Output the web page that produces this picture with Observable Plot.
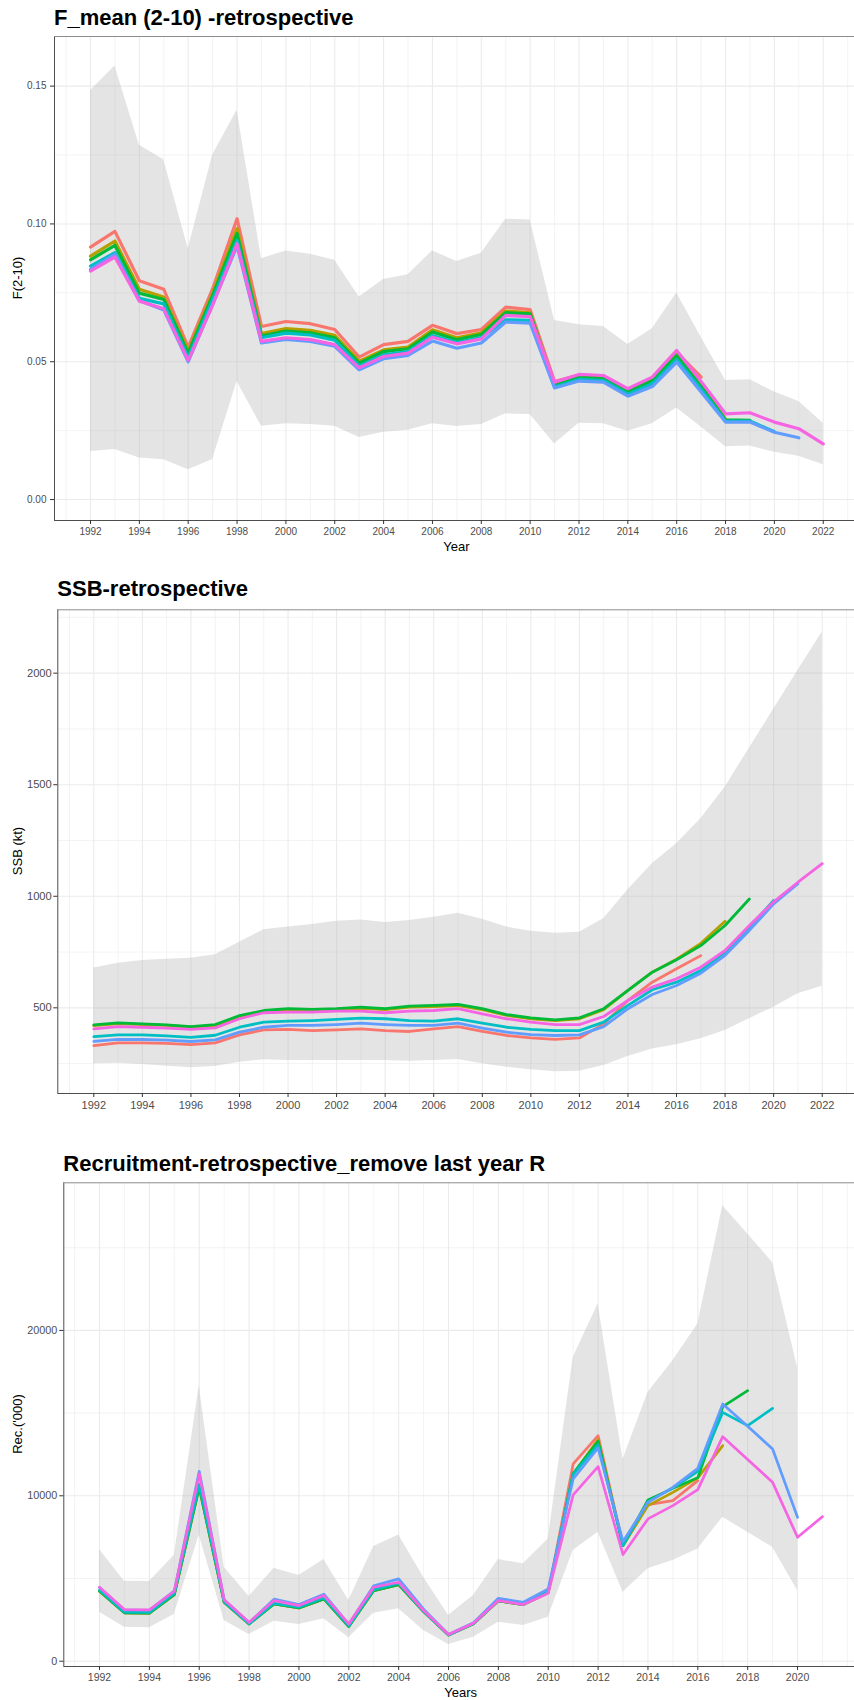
<!DOCTYPE html>
<html><head><meta charset="utf-8">
<script src="https://cdn.jsdelivr.net/npm/d3@7"></script>
<script src="https://cdn.jsdelivr.net/npm/@observablehq/plot@0.6"></script>
<style>
body{margin:0;background:#fff;font-family:"Liberation Sans",Arial,sans-serif;}
#wrap{position:relative;width:854px;height:1700px;overflow:hidden;background:#fff;}
.panel{position:absolute;left:0;}
.title{position:absolute;font-weight:bold;font-size:22px;line-height:22px;color:#000;white-space:nowrap;}
.axt{position:absolute;font-size:13px;line-height:13px;color:#000;white-space:nowrap;transform:translate(-50%,-50%);}
.axt.rot{transform:translate(-50%,-50%) rotate(-90deg);}
</style></head>
<body><div id="wrap"></div>
<script>
// ---------- shared ----------
const runs = ["retro-5", "retro-4", "retro-3", "retro-2", "retro-1", "base"];
const runColors = ["#F8766D", "#B79F00", "#00BA38", "#00BFC4", "#619CFF", "#F564E3"];

// ---------- Panel 1: F_mean (2-10) ----------
const fYears = [1992,1993,1994,1995,1996,1997,1998,1999,2000,2001,2002,2003,2004,2005,2006,2007,2008,2009,2010,2011,2012,2013,2014,2015,2016,2017,2018,2019,2020,2021,2022];
const fRed   = [.0916,.0973,.0794,.0763,.0553,.0765,.1019,.0628,.0646,.0638,.0617,.0517,.0562,.0574,.0632,.0602,.0617,.0698,.0689,.0428,.0452,.0448,.0398,.0440,.0535,.0444];
const fOlive = [.0883,.0938,.0763,.0735,.0538,.0748,.0983,.0602,.0620,.0614,.0596,.0502,.0543,.0553,.0616,.0587,.0605,.0684,.0677,.0418,.0446,.0442,.0394,.0435,.0527,.0415,.0292];
const fGreen = [.0870,.0922,.0749,.0726,.0531,.0740,.0965,.0593,.0611,.0605,.0587,.0495,.0537,.0547,.0608,.0580,.0599,.0678,.0674,.0414,.0444,.0440,.0392,.0432,.0523,.0410,.0289,.0287];
const fCyan  = [.0847,.0896,.0730,.0710,.0515,.0725,.0940,.0587,.0604,.0597,.0578,.0485,.0525,.0537,.0595,.0570,.0588,.0652,.0650,.0408,.0436,.0432,.0382,.0420,.0508,.0400,.0284,.0285,.0246];
const fBlue  = [.0835,.0890,.0722,.0688,.0500,.0708,.0920,.0568,.0581,.0574,.0556,.0471,.0511,.0523,.0575,.0549,.0568,.0644,.0640,.0405,.0430,.0426,.0375,.0410,.0499,.0390,.0281,.0281,.0244,.0224];
const fPink  = [.0829,.0880,.0720,.0692,.0505,.0705,.0928,.0574,.0587,.0580,.0562,.0478,.0519,.0531,.0589,.0565,.0583,.0668,.0664,.0426,.0454,.0450,.0402,.0444,.0541,.0428,.0311,.0315,.0281,.0257,.0202];
const fHi = [.1483,.1573,.1285,.1233,.0910,.1249,.1412,.0874,.0902,.0890,.0868,.0735,.0798,.0816,.0902,.0864,.0894,.1017,.1014,.0650,.0634,.0628,.0563,.0620,.0749,.0589,.0432,.0435,.0390,.0356,.0277];
const fLo = [.0174,.0182,.0151,.0144,.0108,.0145,.0428,.0266,.0275,.0272,.0266,.0225,.0244,.0251,.0275,.0265,.0272,.0311,.0309,.0202,.0277,.0275,.0248,.0275,.0332,.0263,.0192,.0194,.0172,.0157,.0126];
const fYTicks = [0, 0.05, 0.10, 0.15];
const fYMinor = [0.025, 0.075, 0.125];

// ---------- Panel 2: SSB ----------
const sYears = fYears;
const sRed   = [331,343,343,341,335,343,379,401,403,398,401,406,398,394,406,416,395,376,365,359,365,428,533,615,675,734];
const sOlive = [420,429,425,421,413,421,460,484,491,489,492,498,492,503,506,510,492,466,451,443,451,492,578,660,718,789,888];
const sGreen = [424,433,428,424,416,425,465,488,496,493,496,503,496,508,511,515,496,470,455,446,455,496,578,660,715,779,869,988];
const sCyan  = [371,379,379,374,368,377,413,436,440,443,448,454,451,443,440,451,431,413,403,398,398,436,511,581,615,667,750,862,981];
const sBlue  = [350,359,358,355,349,356,391,413,421,421,425,431,425,421,421,431,409,391,380,376,379,416,496,560,600,655,735,847,966,1056];
const sPink  = [406,416,413,409,403,410,451,478,481,481,485,485,478,485,488,496,473,451,436,425,425,461,533,593,630,682,757,869,975,1063,1146];
const sHi = [679,700,712,718,722,738,794,850,862,874,888,894,882,891,906,924,897,862,843,834,839,899,1029,1146,1235,1348,1489,1664,1838,2012,2184];
const sLo = [249,252,246,238,231,237,256,267,264,264,264,264,264,261,264,268,249,234,222,214,216,241,282,316,335,361,398,451,503,563,597];
const sYTicks = [500, 1000, 1500, 2000];
const sYMinor = [250, 750, 1250, 1750, 2250];

// ---------- Panel 3: Recruitment ----------
const rYears = [1992,1993,1994,1995,1996,1997,1998,1999,2000,2001,2002,2003,2004,2005,2006,2007,2008,2009,2010,2011,2012,2013,2014,2015,2016,2017,2018,2019,2020,2021];
const rRed   = [4230,2924,2904,4028,10514,3569,2256,3465,3223,3768,2096,4270,4632,3000,1580,2270,3650,3420,4150,11927,13637,6990,9466,9709,10917];
const rOlive = [4230,2924,2904,4028,10514,3569,2256,3465,3223,3768,2096,4270,4632,3000,1580,2270,3650,3420,4150,11322,13400,6990,9405,10211,11081,13032];
const rGreen = [4250,2924,2904,4028,10514,3569,2256,3465,3223,3768,2096,4270,4632,3000,1580,2270,3650,3420,4150,11350,13300,6990,9752,10450,11100,15389,16356];
const rCyan  = [4300,2960,2950,4100,10700,3600,2260,3500,3260,3830,2130,4330,4700,3020,1590,2280,3680,3450,4200,11300,13100,7000,9650,10480,11480,15044,14241,15287];
const rBlue  = [4450,3100,3080,4250,11482,3720,2330,3750,3430,4050,2230,4560,4975,3150,1620,2330,3807,3565,4376,11021,12894,7232,9607,10513,11662,15552,14200,12834,8700];
const rPink  = [4471,3122,3102,4230,11321,3710,2357,3666,3364,3970,2257,4471,4773,3062,1613,2296,3666,3424,4110,10054,11764,6447,8604,9407,10374,13576,12200,10815,7492,8741];
const rHi = [6749,4834,4814,6386,16658,5680,3910,5620,5178,6145,3667,6930,7637,5075,2760,3970,6145,5885,7394,18368,21594,12200,16250,18168,20386,27533,25824,24109,17764];
const rLo = [2961,2054,2018,2822,7637,2459,1613,2417,2217,2562,1414,2900,3166,1855,1009,1450,2356,2157,2658,6688,7794,4169,5583,6084,6791,8700,7794,6888,4272];
const rYTicks = [0, 10000, 20000];
const rYMinor = [5000, 15000, 25000];

// x tick labels / grid
const xMajor13 = [1992,1994,1996,1998,2000,2002,2004,2006,2008,2010,2012,2014,2016,2018,2020,2022];
const xMinor13 = [1991,1993,1995,1997,1999,2001,2003,2005,2007,2009,2011,2013,2015,2017,2019,2021,2023];
const xMajorR = [1992,1994,1996,1998,2000,2002,2004,2006,2008,2010,2012,2014,2016,2018,2020];
const xMinorR = [1991,1993,1995,1997,1999,2001,2003,2005,2007,2009,2011,2013,2015,2017,2019,2021,2022];

const wrap = document.getElementById("wrap");

function makePanel(cfg) {
  const lines = [];
  cfg.values.forEach((vals, i) => vals.forEach((v, j) => lines.push({run: runs[i], year: cfg.years[j], value: v})));
  const ribbon = cfg.hi.map((h, j) => ({year: cfg.years[j], lo: cfg.lo[j], hi: h}));
  const svg = Plot.plot({
    width: 854, height: cfg.height,
    marginTop: cfg.mt, marginBottom: cfg.mb, marginLeft: cfg.ml, marginRight: 0,
    style: {background: "transparent", fontFamily: "'Liberation Sans', Arial, sans-serif", overflow: "hidden"},
    x: {domain: cfg.xDomain, axis: null},
    y: {domain: cfg.yDomain, axis: null},
    color: {domain: runs, range: runColors},
    marks: [
      Plot.ruleX(cfg.xMinor, {stroke: "#ebebeb", strokeWidth: 0.6}),
      Plot.ruleY(cfg.yMinor, {stroke: "#ebebeb", strokeWidth: 0.6}),
      Plot.ruleX(cfg.xMajor, {stroke: "#ebebeb", strokeWidth: 1.1}),
      Plot.ruleY(cfg.yTicks, {stroke: "#ebebeb", strokeWidth: 1.1}),
      Plot.areaY(ribbon, {x: "year", y1: "lo", y2: "hi", fill: "#b3b3b3", fillOpacity: 0.36}),
      Plot.line(lines, {x: "year", y: "value", z: "run", stroke: "run", strokeWidth: cfg.sw}),
      Plot.ruleX([cfg.xDomain[0]], {stroke: "#4d4d4d", strokeWidth: 1}),
      Plot.ruleY([cfg.yDomain[0]], {stroke: "#4d4d4d", strokeWidth: 1}),
      Plot.ruleY([cfg.yDomain[1]], {stroke: "#8c8c8c", strokeWidth: 1}),
      Plot.axisX(cfg.xMajor, {tickFormat: d => String(d), tickSize: 4, tickPadding: cfg.xPad, fontSize: cfg.fs, stroke: "#333", fill: "#4d4d4d", label: null}),
      Plot.axisY(cfg.yTicks, {tickFormat: cfg.yFormat, tickSize: 4, tickPadding: cfg.yPad, fontSize: cfg.fsy, stroke: "#333", fill: "#4d4d4d", label: null})
    ]
  });
  svg.classList.add("panel");
  svg.style.top = cfg.top + "px";
  wrap.appendChild(svg);
}

makePanel({years: fYears, values: [fRed, fOlive, fGreen, fCyan, fBlue, fPink], hi: fHi, lo: fLo,
  top: 30, height: 530, mt: 6, mb: 40, ml: 54, xDomain: [1990.526, 2023.28], yDomain: [-0.0076, 0.168],
  xMajor: xMajor13, xMinor: xMinor13, yTicks: fYTicks, yMinor: fYMinor, yFormat: d3.format(".2f"),
  sw: 3.2, fs: 10, fsy: 10, xPad: 3, yPad: 4});

makePanel({years: sYears, values: [sRed, sOlive, sGreen, sCyan, sBlue, sPink], hi: sHi, lo: sLo,
  top: 600, height: 530, mt: 9.3, mb: 37, ml: 57.3, xDomain: [1990.517, 2023.33], yDomain: [116, 2284],
  xMajor: xMajor13, xMinor: xMinor13, yTicks: sYTicks, yMinor: sYMinor, yFormat: d => String(d),
  sw: 2.8, fs: 11, fsy: 11.2, xPad: 4, yPad: 2});

makePanel({years: rYears, values: [rRed, rOlive, rGreen, rCyan, rBlue, rPink], hi: rHi, lo: rLo,
  top: 1176, height: 524, mt: 6.3, mb: 34, ml: 63.3, xDomain: [1990.568, 2022.285], yDomain: [-320, 28925],
  xMajor: xMajorR, xMinor: xMinorR, yTicks: rYTicks, yMinor: rYMinor, yFormat: d => String(d),
  sw: 2.7, fs: 10.5, fsy: 10.8, xPad: 3.5, yPad: 2.5});

// titles and axis titles
function addText(cls, text, css) {
  const d = document.createElement("div");
  d.className = cls; d.textContent = text;
  Object.assign(d.style, css);
  wrap.appendChild(d);
}
addText("title", "F_mean (2-10) -retrospective", {left: "54px", top: "7px"});
addText("title", "SSB-retrospective", {left: "57.3px", top: "578px"});
addText("title", "Recruitment-retrospective_remove last year R", {left: "63.3px", top: "1153px"});
addText("axt", "Year", {left: "456.5px", top: "546px"});
addText("axt", "Years", {left: "460.6px", top: "1691.5px"});
addText("axt rot", "F(2-10)", {left: "17px", top: "278px"});
addText("axt rot", "SSB (kt)", {left: "16.7px", top: "851px"});
addText("axt rot", "Rec.('000)", {left: "17px", top: "1424px"});
</script>
</body></html>
